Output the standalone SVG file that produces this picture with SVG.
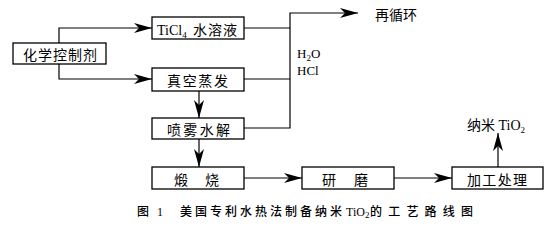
<svg xmlns="http://www.w3.org/2000/svg" width="554" height="227" viewBox="0 0 554 227">
<style>
.box{fill:#fff;stroke:#000;stroke-width:1.3}
.ln{fill:none;stroke:#000;stroke-width:1.2}
.t{font-family:"Liberation Serif","Noto Sans CJK SC",serif;font-size:14px;fill:#000}
.s{font-size:9px}
.cap{font-family:"Liberation Serif","Noto Sans CJK SC",serif;font-size:12px;font-weight:500;fill:#000}
</style>
<defs>
<marker id="ah" markerUnits="userSpaceOnUse" markerWidth="18" markerHeight="10" refX="18" refY="5" orient="auto">
<path d="M0,0 L18,5 L0,10 L5,5 z" fill="#000"/>
</marker>
</defs>
<rect width="554" height="227" fill="#fff"/>
<g id="connectors">
<path class="ln" d="M59,43 V28 H152" marker-end="url(#ah)"/>
<path class="ln" d="M59,64 V79 H152" marker-end="url(#ah)"/>
<path class="ln" d="M199,91 V118" marker-end="url(#ah)"/>
<path class="ln" d="M199,139 V167" marker-end="url(#ah)"/>
<path class="ln" d="M244,178 H302" marker-end="url(#ah)"/>
<path class="ln" d="M394,178 H452" marker-end="url(#ah)"/>
<path class="ln" d="M498,167 V133" marker-end="url(#ah)"/>
<path class="ln" d="M244,28 H290 M244,79 H290"/>
<path class="ln" d="M244,128 H290 V13 H358" marker-end="url(#ah)"/>
</g>
<g id="n-control">
<rect class="box" x="13" y="43" width="93" height="21"/>
<text class="t" x="23" y="60" textLength="74" lengthAdjust="spacing">化学控制剂</text>
</g>
<g id="n-ticl4">
<rect class="box" x="152" y="17" width="92" height="22"/>
<text class="t" x="157" y="35">TiCl<tspan class="s" dy="3">4</tspan></text>
<text class="t" x="193" y="35" textLength="44" lengthAdjust="spacing">水溶液</text>
</g>
<g id="n-evap">
<rect class="box" x="152" y="68" width="92" height="23"/>
<text class="t" x="167" y="86" textLength="61" lengthAdjust="spacing">真空蒸发</text>
</g>
<g id="n-spray">
<rect class="box" x="152" y="118" width="92" height="21"/>
<text class="t" x="167" y="135" textLength="63" lengthAdjust="spacing">喷雾水解</text>
</g>
<g id="n-calcine">
<rect class="box" x="152" y="167" width="92" height="22"/>
<text class="t" x="174" y="185">煅</text>
<text class="t" x="205" y="185">烧</text>
</g>
<g id="n-grind">
<rect class="box" x="302" y="167" width="92" height="22"/>
<text class="t" x="322" y="185">研</text>
<text class="t" x="354" y="185">磨</text>
</g>
<g id="n-process">
<rect class="box" x="452" y="167" width="91" height="22"/>
<text class="t" x="467" y="185" textLength="60" lengthAdjust="spacing">加工处理</text>
</g>
<g id="n-product">
<text class="t" x="467" y="130">纳米 TiO<tspan class="s" dy="3">2</tspan></text>
</g>
<g id="n-recycle">
<text class="t" x="375" y="20" textLength="42" lengthAdjust="spacing">再循环</text>
</g>
<g id="n-byproduct">
<text class="t" x="297" y="58" style="font-size:13px">H<tspan class="s" dy="3">2</tspan><tspan dy="-3">O</tspan></text>
<text class="t" x="297" y="75" style="font-size:13px">HCl</text>
</g>
<g id="caption">
<text class="cap" x="137" y="216">图</text>
<text class="cap" x="157" y="216">1</text>
<text class="cap" x="180" y="216" textLength="162" lengthAdjust="spacing">美国专利水热法制备纳米</text>
<text class="cap" x="346" y="216">TiO<tspan class="s" dy="2">2</tspan></text>
<text class="cap" x="370" y="216" textLength="103" lengthAdjust="spacing">的工艺路线图</text>
</g>
</svg>
